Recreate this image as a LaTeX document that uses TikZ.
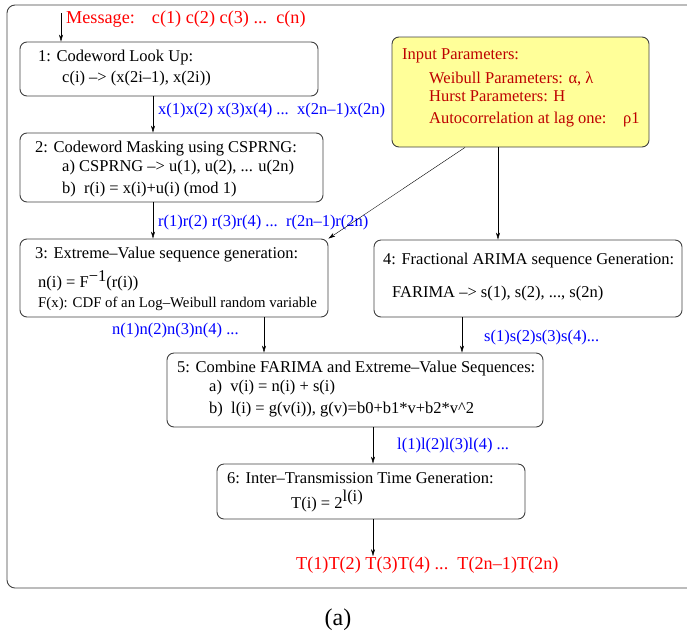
\documentclass[tikz,border=0pt]{standalone}
\usepackage{fontspec}
\setmainfont{Liberation Serif}
\usetikzlibrary{arrows.meta}
\definecolor{paramfill}{RGB}{255,255,153}
\definecolor{paramtext}{RGB}{190,0,0}
\begin{document}
\begin{tikzpicture}
  [x=1pt,y=-1pt,>={Stealth[length=7pt,width=4pt]},
   box/.style={draw=black!75,line width=0.9pt,rounded corners=7pt,inner sep=0pt},
   txt/.style={anchor=base west,inner sep=0pt,font=\fontsize{16.5}{19}\selectfont},
   small/.style={txt,font=\fontsize{14.8}{17}\selectfont},
   seq/.style={txt,blue},
   io/.style={txt,red,font=\fontsize{18.2}{21}\selectfont},
   par/.style={txt,paramtext}]
  \useasboundingbox (0,0) rectangle (687,635);
  % outer frame, right side runs off the page
  \draw[black!75,line width=0.9pt,rounded corners=8pt] (7,5) rectangle (700,588);

  % boxes
  \node[box,minimum width=298pt,minimum height=54pt] (lookup) at (169,69) {};
  \node[box,minimum width=303pt,minimum height=69pt] (masking) at (171.5,167.5) {};
  \node[box,minimum width=308pt,minimum height=78pt] (extreme) at (174,278) {};
  \node[box,fill=paramfill,minimum width=257pt,minimum height=110pt] (params) at (520.5,92) {};
  \node[box,minimum width=308pt,minimum height=77pt] (farima) at (528,278.5) {};
  \node[box,minimum width=376pt,minimum height=74pt] (combine) at (355,390) {};
  \node[box,minimum width=308pt,minimum height=55pt] (itt) at (371,491.5) {};

  % box texts
  \node[txt] (t1a) at (38,61) {1: Codeword Look Up:};
  \node[txt] (t1b) at (62,82) {c(i) –> (x(2i–1), x(2i))};
  \node[txt] (t2a) at (35,152) {2: Codeword Masking using CSPRNG:};
  \node[txt] (t2b) at (62,171) {a) CSPRNG –> u(1), u(2), ... u(2n)};
  \node[txt] (t2c) at (62,193) {b)\ \ r(i) = x(i)+u(i) (mod 1)};
  \node[txt] (t3a) at (35,258) {3: Extreme–Value sequence generation:};
  \node[txt] (t3b) at (38,287) {n(i) = F\raisebox{6pt}{−1}(r(i))};
  \node[small] (t3c) at (38,307) {F(x): CDF of an Log–Weibull random variable};
  \node[par] (tpa) at (402,59) {Input Parameters:};
  \node[par] (tpb) at (429,83) {Weibull Parameters: α, λ};
  \node[par] (tpc) at (429,101) {Hurst Parameters: H};
  \node[par] (tpd) at (429,123) {Autocorrelation at lag one:\quad ρ1};
  \node[txt] (t4a) at (383,264) {4: Fractional ARIMA sequence Generation:};
  \node[txt] (t4b) at (392,297) {FARIMA –> s(1), s(2), ..., s(2n)};
  \node[txt] (t5a) at (177,372) {5: Combine FARIMA and Extreme–Value Sequences:};
  \node[txt] (t5b) at (209,391) {a)\ \ v(i) = n(i) + s(i)};
  \node[txt] (t5c) at (209,413) {b)\ \ l(i) = g(v(i)), g(v)=b0+b1*v+b2*v\textasciicircum 2};
  \node[txt] (t6a) at (227,483) {6: Inter–Transmission Time Generation:};
  \node[txt] (t6b) at (291,508) {T(i) = 2\raisebox{7pt}{l(i)}};

  % sequences
  \node[io] (msg) at (66,23) {Message:\hspace{11pt} c(1) c(2) c(3) ...\ \ c(n)};
  \node[seq] (xseq) at (158,114) {x(1)x(2) x(3)x(4) ...\ \ x(2n–1)x(2n)};
  \node[seq] (rseq) at (158,226) {r(1)r(2) r(3)r(4) ...\ \ r(2n–1)r(2n)};
  \node[seq] (nseq) at (112,334) {n(1)n(2)n(3)n(4) ...};
  \node[seq] (sseq) at (484,341) {s(1)s(2)s(3)s(4)...};
  \node[seq] (lseq) at (397,449) {l(1)l(2)l(3)l(4) ...};
  \node[io] (out) at (296,569) {T(1)T(2) T(3)T(4) ...\ \ T(2n–1)T(2n)};
  \node[anchor=base,inner sep=0pt,font=\fontsize{24}{28}\selectfont] (cap) at (338,625) {(a)};

  % arrows
  \coordinate (msgtop) at (61,13);
  \coordinate (colA) at (153,0);
  \coordinate (colB) at (264,0);
  \coordinate (colC) at (462,0);
  \coordinate (colD) at (373,0);
  \coordinate (colE) at (498,0);
  \coordinate (colF) at (465,0);
  \draw[->] (msgtop) -- (msgtop |- lookup.north);
  \draw[->] (lookup.south -| colA) -- (masking.north -| colA);
  \draw[->] (masking.south -| colA) -- (extreme.north -| colA);
  \draw[->] (params.south -| colF) -- (extreme.north east);
  \draw[->] (params.south -| colE) -- (farima.north -| colE);
  \draw[->] (extreme.south -| colB) -- (combine.north -| colB);
  \draw[->] (farima.south -| colC) -- (combine.north -| colC);
  \draw[->] (combine.south -| colD) -- (itt.north -| colD);
  \draw[->] (itt.south -| colD) -- (out.north -| colD);
\end{tikzpicture}
\end{document}
